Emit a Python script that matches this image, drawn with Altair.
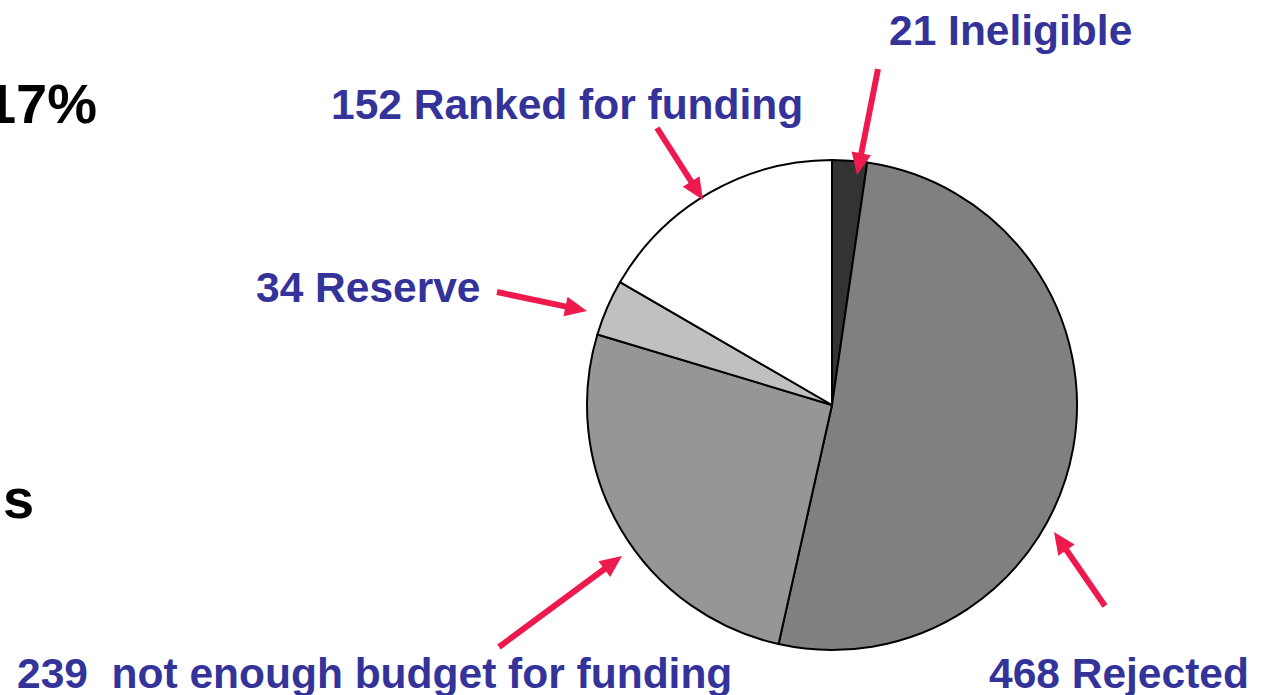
import altair as alt
import pandas as pd
import numpy as np

# ---- data ----
categories = ["Ineligible", "Rejected", "not enough budget for funding", "Reserve", "Ranked for funding"]
counts = [21, 468, 239, 34, 152]
slice_colors = ["#333333", "#808080", "#969696", "#c0c0c0", "#ffffff"]
label_sep = [" ", " ", "\u00a0 ", " ", " "]

# ---- layout (pixels) ----
label_x = [889, 989, 17, 256, 331]
label_y = [45, 688, 688, 302, 119]
arrow_tail_x = [878, 1105, 499, 497, 657]
arrow_tail_y = [69, 606, 647, 292, 128]
arrow_tip_x = [857, 1054, 622, 587, 703]
arrow_tip_y = [175, 532, 556, 311, 200]
side_texts = ["17%", "s"]
side_x = [97, 3]
side_y = [123, 518]
side_align = ["right", "left"]

W, H = 1265, 695
CX, CY, R = 832, 405, 245
BLUE = "#333399"
RED = "#ee1a4e"
FONT = "Liberation Sans"

pie_df = pd.DataFrame({"cat": categories, "n": counts, "idx": range(len(categories))})

lab_df = pd.DataFrame({
    "text": [f"{n}{s}{c}" for n, s, c in zip(counts, label_sep, categories)],
    "x": label_x, "y": label_y,
})

tx, ty = np.array(arrow_tail_x, float), np.array(arrow_tail_y, float)
px, py = np.array(arrow_tip_x, float), np.array(arrow_tip_y, float)
dx, dy = px - tx, py - ty
L = np.hypot(dx, dy)
ux, uy = dx / L, dy / L
head = 11.0
arr_df = pd.DataFrame({
    "x": tx, "y": ty,
    "x2": px - ux * head * 1.6, "y2": py - uy * head * 1.6,
    "hx": px - ux * head, "hy": py - uy * head,
    "ang": (np.degrees(np.arctan2(dx, -dy)) + 360) % 360,
})

side_df = pd.DataFrame({"text": side_texts, "x": side_x, "y": side_y, "align": side_align})

pie = alt.Chart(pie_df).mark_arc(
    radius=R, stroke="black", strokeWidth=2, strokeJoin="round"
).encode(
    theta=alt.Theta("n:Q", stack=True),
    order=alt.Order("idx:Q"),
    color=alt.Color("cat:N", scale=alt.Scale(domain=categories, range=slice_colors), legend=None),
    x=alt.value(CX), y=alt.value(CY),
)

shafts = alt.Chart(arr_df).mark_rule(color=RED, strokeWidth=6, strokeCap="butt").encode(
    x=alt.X("x:Q", scale=None), y=alt.Y("y:Q", scale=None),
    x2="x2:Q", y2="y2:Q",
)

heads = alt.Chart(arr_df).mark_point(
    shape="M0,-1L0.9,1L-0.9,1Z", filled=True, color=RED, opacity=1,
    size=head * head * 4, strokeWidth=0
).encode(
    x=alt.X("hx:Q", scale=None), y=alt.Y("hy:Q", scale=None),
    angle=alt.Angle("ang:Q", scale=None),
)

labels = alt.Chart(lab_df).mark_text(
    align="left", baseline="alphabetic", font=FONT, fontWeight="bold", fontSize=42.5, color=BLUE
).encode(
    x=alt.X("x:Q", scale=None), y=alt.Y("y:Q", scale=None), text="text:N",
)

side_r = alt.Chart(side_df[side_df["align"] == "right"]).mark_text(
    align="right", baseline="alphabetic", font=FONT, fontWeight="bold", fontSize=56, color="black"
).encode(x=alt.X("x:Q", scale=None), y=alt.Y("y:Q", scale=None), text="text:N")

side_l = alt.Chart(side_df[side_df["align"] == "left"]).mark_text(
    align="left", baseline="alphabetic", font=FONT, fontWeight="bold", fontSize=56, color="black"
).encode(x=alt.X("x:Q", scale=None), y=alt.Y("y:Q", scale=None), text="text:N")

chart = alt.layer(pie, shafts, heads, labels, side_r, side_l).properties(
    width=W, height=H, padding=0, autosize=alt.AutoSizeParams(type="none"), background="white"
).configure_view(stroke=None)

chart.save("out.html", embed_options={"renderer": "svg", "actions": False})
